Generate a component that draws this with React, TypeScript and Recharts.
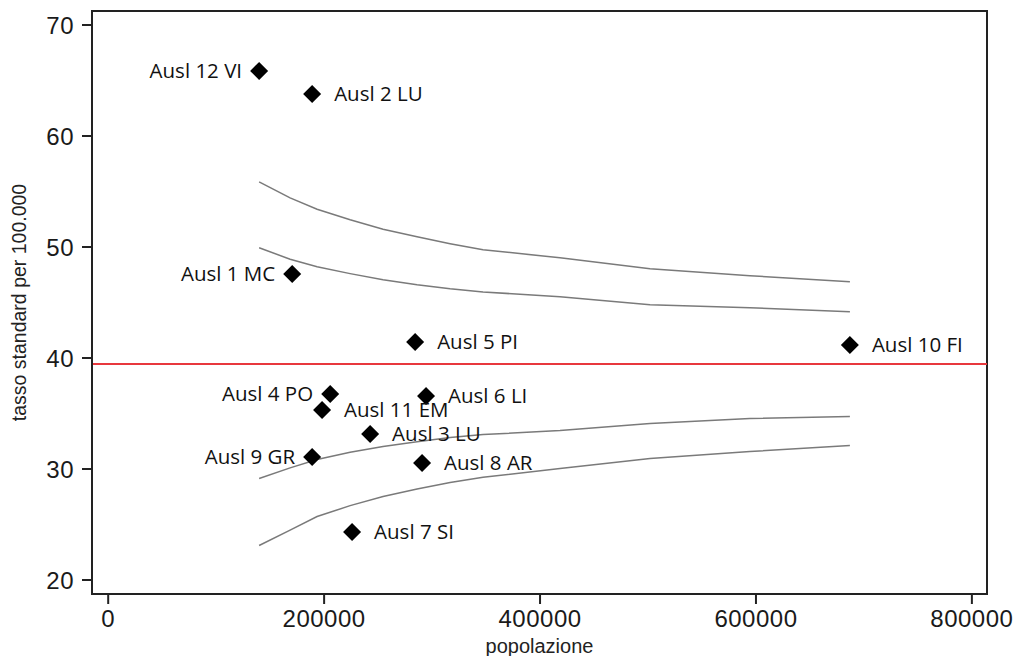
import React from 'react';
import {
  ScatterChart,
  Scatter,
  XAxis,
  YAxis,
  ReferenceLine,
  ReferenceArea,
} from 'recharts';

// Ausl data: population and standardised rate per 100.000
const ausl = ['Ausl 12 VI', 'Ausl 2 LU', 'Ausl 1 MC', 'Ausl 5 PI', 'Ausl 10 FI', 'Ausl 4 PO', 'Ausl 6 LI', 'Ausl 11 EM', 'Ausl 3 LU', 'Ausl 9 GR', 'Ausl 8 AR', 'Ausl 7 SI'];
const popolazione = [139800, 188900, 170400, 284300, 687000, 205600, 294400, 198100, 242600, 188900, 290700, 225900];
const tasso = [65.86, 63.78, 47.57, 41.44, 41.17, 36.76, 36.58, 35.32, 33.15, 31.08, 30.54, 24.32];
const labelsOnLeft = ['Ausl 12 VI', 'Ausl 1 MC', 'Ausl 4 PO', 'Ausl 9 GR'];

// regional mean
const mediaRegionale = 39.46;

// control limits
const limitX = [139800, 168500, 193500, 224100, 254600, 286100, 316700, 347200, 418500, 501900, 594400, 687000];
const upperOuter = [55.87, 54.43, 53.4, 52.45, 51.6, 50.92, 50.3, 49.75, 49.03, 48.04, 47.41, 46.87];
const upperInner = [49.93, 48.9, 48.22, 47.6, 47.05, 46.6, 46.24, 45.95, 45.52, 44.8, 44.53, 44.17];
const lowerInner = [29.14, 30.1, 30.85, 31.5, 32.02, 32.45, 32.83, 33.1, 33.46, 34.09, 34.54, 34.72];
const lowerOuter = [23.11, 24.5, 25.72, 26.7, 27.52, 28.2, 28.78, 29.25, 30.04, 30.94, 31.57, 32.11];

const xTicks = [0, 200000, 400000, 600000, 800000];
const yTicks = [20, 30, 40, 50, 60, 70];
const X_DOMAIN: [number, number] = [-15000, 814000];
const Y_DOMAIN: [number, number] = [18.74, 71.26];

const points = ausl.map((name, i) => ({ name, x: popolazione[i], y: tasso[i] }));
const limitSeries = [upperOuter, upperInner, lowerInner, lowerOuter].map((ys) =>
  limitX.map((x, i) => ({ x, y: ys[i] }))
);

const Diamond = (props: any) => {
  const { cx, cy, payload } = props;
  if (cx == null || cy == null) return null;
  const r = 9;
  const left = labelsOnLeft.includes(payload.name);
  return (
    <g>
      <polygon points={`${cx},${cy - r} ${cx + r},${cy} ${cx},${cy + r} ${cx - r},${cy}`} fill="#000" />
      <text
        x={left ? cx - 17 : cx + 22}
        y={cy - 1}
        textAnchor={left ? 'end' : 'start'}
        dominantBaseline="central"
        fontFamily="'Open Sans', sans-serif"
        fontSize={20.5}
        fill="#111"
      >
        {payload.name}
      </text>
    </g>
  );
};

const tickStyle = { fontSize: 24, fill: '#1a1a1a', fontFamily: "'Liberation Sans', Arial, sans-serif", letterSpacing: 0.5 };

export default function App() {
  return (
    <div style={{ width: 1018, height: 656, overflow: 'hidden' }}>
      <style>{'body { margin: 0; overflow: hidden; }'}</style>
      <ScatterChart width={1018} height={656} margin={{ top: 11, right: 31, bottom: 0, left: 0 }}>
        <XAxis
          type="number"
          dataKey="x"
          domain={X_DOMAIN}
          ticks={xTicks}
          allowDataOverflow
          height={62}
          tickSize={10}
          tickMargin={6}
          tick={tickStyle}
          axisLine={{ stroke: '#222', strokeWidth: 2 }}
          tickLine={{ stroke: '#222', strokeWidth: 2 }}
          label={{ value: 'popolazione', position: 'insideBottom', offset: 3, style: { fontSize: 20, fill: '#222', fontFamily: "'Liberation Sans', Arial, sans-serif" } }}
        />
        <YAxis
          type="number"
          dataKey="y"
          domain={Y_DOMAIN}
          ticks={yTicks}
          allowDataOverflow
          width={92}
          tickSize={10}
          tickMargin={8}
          tick={tickStyle}
          axisLine={{ stroke: '#222', strokeWidth: 2 }}
          tickLine={{ stroke: '#222', strokeWidth: 2 }}
          label={{ value: 'tasso standard per 100.000', angle: -90, position: 'insideLeft', offset: 19, style: { textAnchor: 'middle', fontSize: 19.5, fill: '#222', fontFamily: "'Liberation Sans', Arial, sans-serif" } }}
        />
        <ReferenceArea x1={X_DOMAIN[0]} x2={X_DOMAIN[1]} y1={Y_DOMAIN[0]} y2={Y_DOMAIN[1]} fill="none" stroke="#222" strokeWidth={2} fillOpacity={0} />
        <ReferenceLine y={mediaRegionale} stroke="#e8383d" strokeWidth={2} />
        {limitSeries.map((d, i) => (
          <Scatter
            key={i}
            data={d}
            line={{ stroke: '#7a7a7a', strokeWidth: 1.5 }}
            lineType="joint"
            shape={() => <g />}
            isAnimationActive={false}
          />
        ))}
        <Scatter data={points} shape={Diamond} isAnimationActive={false} />
      </ScatterChart>
    </div>
  );
}
